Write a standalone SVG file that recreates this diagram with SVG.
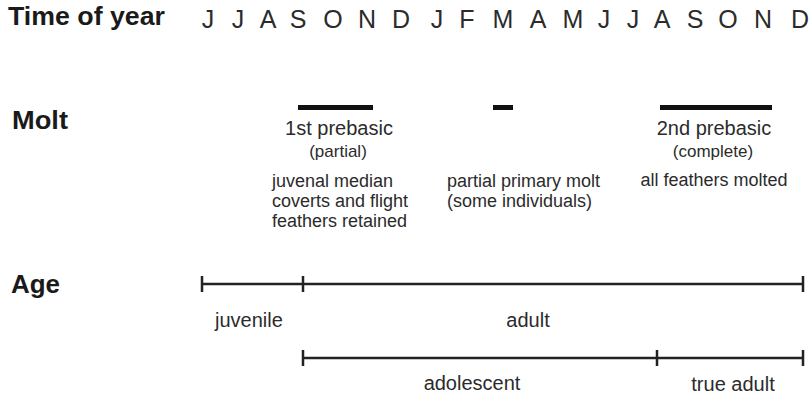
<svg xmlns="http://www.w3.org/2000/svg" width="811" height="399" viewBox="0 0 811 399">
<style>
text{font-family:"Liberation Sans",Arial,sans-serif;fill:#2b2b2b}
.h{font-weight:bold;font-size:25px;fill:#1a1a1a}
.m{font-size:25px;text-anchor:middle}
.t{font-size:20px}
.s{font-size:17px}
.n{font-size:18px}
.c{text-anchor:middle}
.bar{stroke:#111;stroke-width:5}
.ln{stroke:#222;stroke-width:2.5;fill:none}
</style>
<rect width="811" height="399" fill="#fff"/>
<g id="header">
<text class="h" x="8" y="25" textLength="157" lengthAdjust="spacingAndGlyphs">Time of year</text>
<g id="months">
<text class="m" x="208" y="28">J</text>
<text class="m" x="238" y="28">J</text>
<text class="m" x="268" y="28">A</text>
<text class="m" x="298" y="28">S</text>
<text class="m" x="333" y="28">O</text>
<text class="m" x="367" y="28">N</text>
<text class="m" x="401" y="28">D</text>
<text class="m" x="437" y="28">J</text>
<text class="m" x="467" y="28">F</text>
<text class="m" x="503" y="28">M</text>
<text class="m" x="538" y="28">A</text>
<text class="m" x="573" y="28">M</text>
<text class="m" x="604" y="28">J</text>
<text class="m" x="633" y="28">J</text>
<text class="m" x="662" y="28">A</text>
<text class="m" x="695" y="28">S</text>
<text class="m" x="728" y="28">O</text>
<text class="m" x="763" y="28">N</text>
<text class="m" x="800" y="28">D</text>
</g>
</g>
<g id="molt">
<text class="h" x="12" y="129" textLength="56" lengthAdjust="spacingAndGlyphs">Molt</text>
<g id="molt1">
<line class="bar" x1="298" y1="107.5" x2="373" y2="107.5"/>
<text class="t c" x="339" y="135">1st prebasic</text>
<text class="s c" x="338" y="157">(partial)</text>
<text class="n" x="272" y="187">juvenal median</text>
<text class="n" x="272" y="207">coverts and flight</text>
<text class="n" x="272" y="227">feathers retained</text>
</g>
<g id="molt2">
<line class="bar" x1="493" y1="107.5" x2="513" y2="107.5"/>
<text class="n" x="447" y="187">partial primary molt</text>
<text class="n" x="447" y="207">(some individuals)</text>
</g>
<g id="molt3">
<line class="bar" x1="660" y1="107.5" x2="772" y2="107.5"/>
<text class="t c" x="714" y="135">2nd prebasic</text>
<text class="s c" x="713" y="157">(complete)</text>
<text class="n c" x="714" y="186">all feathers molted</text>
</g>
</g>
<g id="age">
<text class="h" x="11" y="293" textLength="49" lengthAdjust="spacingAndGlyphs">Age</text>
<g id="connectors">
<path class="ln" d="M202 284H803M202 276V292M303 276V292M803 276V292"/>
<path class="ln" d="M303 358H803M303 350V366M657 350V366M803 350V366"/>
</g>
<g id="juvenile"><text class="t" x="215" y="327">juvenile</text></g>
<g id="adult"><text class="t c" x="528" y="327">adult</text></g>
<g id="adolescent"><text class="t c" x="472" y="390">adolescent</text></g>
<g id="true-adult"><text class="t c" x="733" y="391">true adult</text></g>
</g>
</svg>
